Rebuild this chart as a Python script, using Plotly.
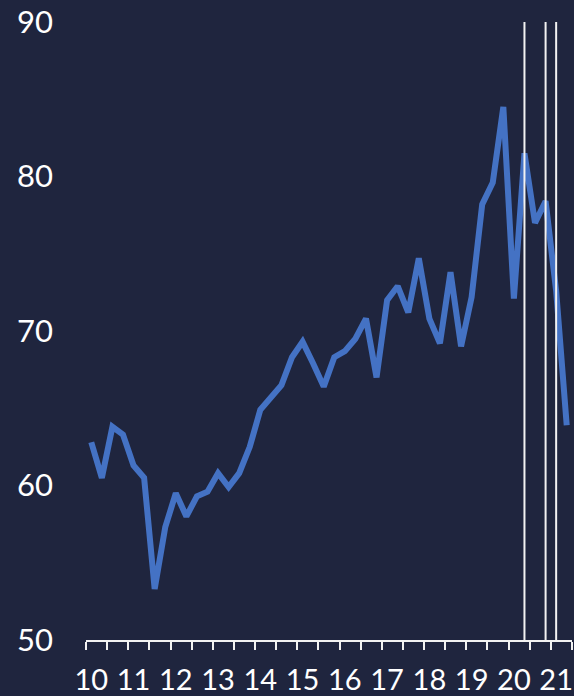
import plotly.graph_objects as go

quarters = [f"{y:02d}Q{q}" for y in range(10, 22) for q in range(1, 5)][:46]
values = [62.8, 60.5, 63.8, 63.3, 61.3, 60.5, 53.3, 57.3, 59.5, 58.0,
          59.3, 59.6, 60.8, 59.9, 60.8, 62.5, 64.9, 65.7, 66.5, 68.3,
          69.3, 67.9, 66.4, 68.3, 68.7, 69.5, 70.8, 67.0, 72.0, 72.9,
          71.2, 74.7, 70.8, 69.2, 73.8, 69.0, 72.2, 78.2, 79.6, 84.5,
          72.1, 81.5, 77.0, 78.4, 72.6, 63.9]
year_labels = ["10", "11", "12", "13", "14", "15", "16", "17", "18", "19", "20", "21"]
year_label_quarters = [f"{y}Q1" for y in year_labels]
event_quarters = ["20Q2", "20Q4", "21Q1"]
y_ticks = [50, 60, 70, 80, 90]

BG = "#1f253e"
LINE = "#4472c4"
WHITE = "#f2f2f2"
FONT = "Lato"

xs = list(range(len(values)))
idx = {q: i for i, q in enumerate(quarters)}

fig = go.Figure()
fig.add_trace(go.Scatter(x=xs, y=values, mode="lines",
                         line=dict(color=LINE, width=6),
                         hoverinfo="skip", showlegend=False))

for q in event_quarters:
    fig.add_shape(type="line", xref="x", yref="y",
                  x0=idx[q], x1=idx[q], y0=y_ticks[0], y1=y_ticks[-1] + 0.1,
                  line=dict(color=WHITE, width=2), layer="above")

fig.update_layout(
    width=574, height=696,
    margin=dict(l=86, r=2, t=22, b=56, autoexpand=False),
    paper_bgcolor=BG, plot_bgcolor=BG,
    font=dict(family=FONT, color="white", size=31),
    showlegend=False,
)
fig.update_xaxes(
    range=[-0.5, len(values) - 0.5],
    tickmode="array",
    tickvals=[idx[q] for q in year_label_quarters],
    ticktext=year_labels,
    ticks="", ticklen=0,
    showline=True, linecolor=WHITE, linewidth=2,
    showgrid=False, zeroline=False, automargin=False,
    tickfont=dict(family=FONT, size=29, color="white"),
    ticklabelstandoff=13,
    minor=dict(tickmode="linear", tick0=-0.5, dtick=2, ticks="outside",
               ticklen=8, tickwidth=2, tickcolor=WHITE, showgrid=False),
)
fig.update_yaxes(
    range=[y_ticks[0], y_ticks[-1]],
    tickmode="array", tickvals=y_ticks,
    showline=False, showgrid=False, zeroline=False, ticks="", automargin=False,
    tickfont=dict(family=FONT, size=31, color="white"),
    ticklabelstandoff=32,
)

fig.write_html("out.html")
